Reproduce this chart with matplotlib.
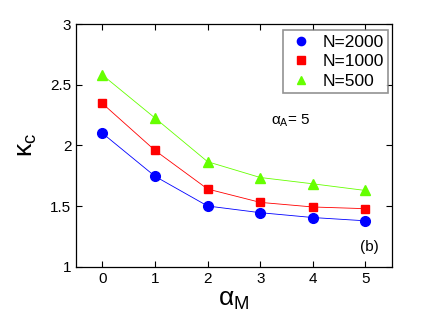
import numpy as np
import matplotlib
matplotlib.use('Agg')
from matplotlib import pyplot as plt

plt.rcParams['font.family'] = ['Liberation Sans', 'DejaVu Sans']
plt.rcParams['mathtext.fontset'] = 'custom'
plt.rcParams['mathtext.rm'] = 'Liberation Sans'
plt.rcParams['mathtext.it'] = 'Liberation Sans'

alpha_m = [0, 1, 2, 3, 4, 5]
kc_2000 = [2.10, 1.745, 1.50, 1.445, 1.405, 1.378]
kc_1000 = [2.345, 1.958, 1.64, 1.53, 1.492, 1.478]
kc_500 = [2.58, 2.225, 1.865, 1.735, 1.683, 1.628]

fig = plt.figure(figsize=(4.35, 3.27), dpi=100)
ax = fig.add_axes([0.175, 0.1845, 0.7255, 0.742])

ax.plot(alpha_m, kc_2000, '-o', color='#0000ff', lw=0.6, ms=7, label='N=2000')
ax.plot(alpha_m, kc_1000, '-s', color='#ff0000', lw=0.6, ms=6, label='N=1000')
ax.plot(alpha_m, kc_500, '-^', color='#66ff00', lw=0.6, ms=7.5, label='N=500')

ax.set_xlim(-0.5, 5.5)
ax.set_ylim(1, 3)
ax.set_xticks([0, 1, 2, 3, 4, 5])
ax.set_yticks([1, 1.5, 2, 2.5, 3])
ax.set_yticklabels(['1', '1.5', '2', '2.5', '3'])
ax.tick_params(direction='in', top=True, right=True, labelsize=11, length=4, width=0.8)
for s in ax.spines.values():
    s.set_linewidth(0.9)

ax.set_xlabel(r'$\alpha_M$', fontsize=19, labelpad=2)
ax.set_ylabel(r'$\kappa_c$', fontsize=19, labelpad=8)

ax.text(3.21, 2.2, r'$\alpha_A$= 5', fontsize=11, va='center')
ax.text(4.89, 1.16, '(b)', fontsize=11, va='center')

leg = ax.legend(loc='upper right', bbox_to_anchor=(0.988, 0.975), fontsize=12.5,
                frameon=True, fancybox=False, handlelength=1.6, borderpad=0.25,
                labelspacing=0.25, handletextpad=0.4, borderaxespad=0, markerscale=0.85)
for ln in leg.get_lines():
    ln.set_linestyle('none')
leg.get_frame().set_edgecolor('#777777')
leg.get_frame().set_linewidth(1.2)

plt.savefig('out.png', dpi=100)
